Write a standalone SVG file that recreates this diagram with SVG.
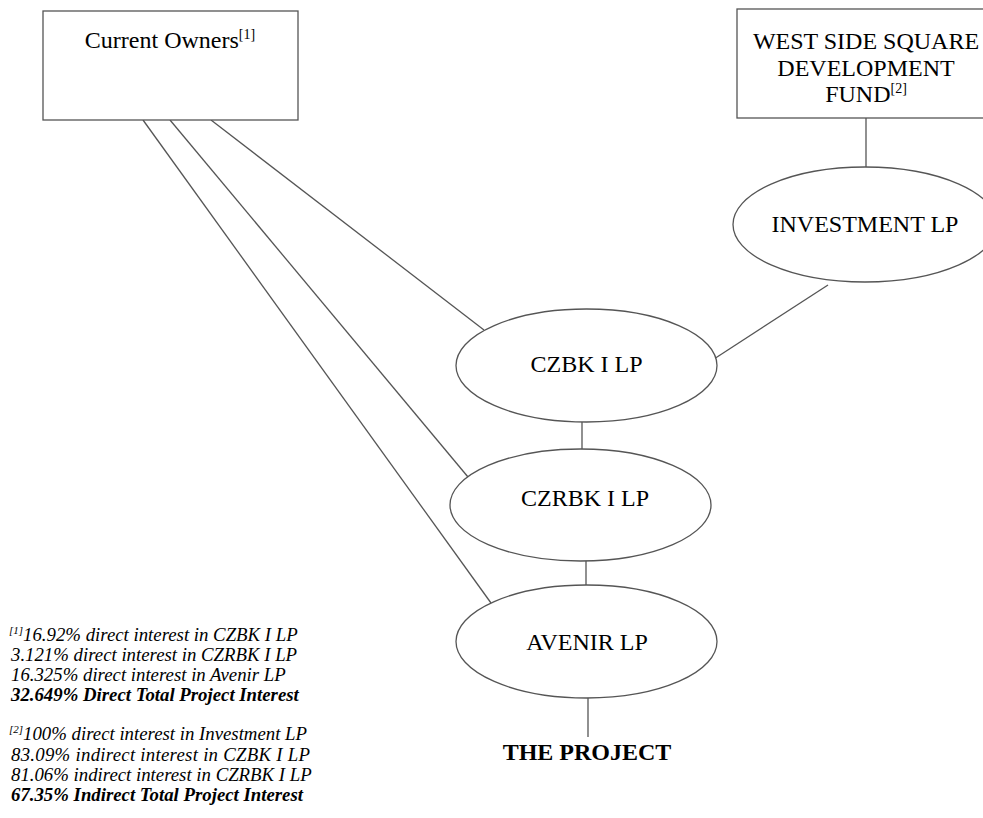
<svg xmlns="http://www.w3.org/2000/svg" width="983" height="818" viewBox="0 0 983 818">
<style>
.box{fill:#fff;stroke:#555;stroke-width:1.3}
.ell{fill:#fff;stroke:#555;stroke-width:1.3}
.ln{stroke:#555;stroke-width:1.3;fill:none}
.t{font-family:"Liberation Serif","Times New Roman",serif;font-size:24px;fill:#000;text-anchor:middle}
.sup{font-size:14px}
.fn{font-family:"Liberation Serif","Times New Roman",serif;font-size:18.8px;font-style:italic;fill:#000}
.fs{font-size:11px}
.b{font-weight:bold}
</style>
<rect width="983" height="818" fill="#fff"/>
<g id="connectors">
<line class="ln" x1="211" y1="120" x2="484" y2="330"/>
<line class="ln" x1="170" y1="120" x2="468" y2="477"/>
<line class="ln" x1="143" y1="120" x2="491" y2="603"/>
<line class="ln" x1="866" y1="118" x2="866" y2="167"/>
<line class="ln" x1="828" y1="285" x2="714" y2="359"/>
<line class="ln" x1="582" y1="422" x2="582" y2="449"/>
<line class="ln" x1="586" y1="561" x2="586" y2="585"/>
<line class="ln" x1="588" y1="698" x2="588" y2="737"/>
</g>
<g id="current-owners">
<rect class="box" x="43" y="11" width="255" height="109"/>
<text class="t" x="170" y="48">Current Owners<tspan class="sup" dy="-9">[1]</tspan></text>
</g>
<g id="west-side">
<rect class="box" x="737" y="9" width="259" height="109"/>
<text class="t" x="866" y="49">WEST SIDE SQUARE</text>
<text class="t" x="866" y="76">DEVELOPMENT</text>
<text class="t" x="866" y="102">FUND<tspan class="sup" dy="-9">[2]</tspan></text>
</g>
<g id="investment-lp">
<ellipse class="ell" cx="865" cy="224.5" rx="132" ry="57.5"/>
<text class="t" x="865" y="232">INVESTMENT LP</text>
</g>
<g id="czbk">
<ellipse class="ell" cx="586.5" cy="365.5" rx="130.5" ry="56.5"/>
<text class="t" x="586.5" y="372">CZBK I LP</text>
</g>
<g id="czrbk">
<ellipse class="ell" cx="580.5" cy="505" rx="130.5" ry="56"/>
<text class="t" x="585" y="506">CZRBK I LP</text>
</g>
<g id="avenir">
<ellipse class="ell" cx="586.5" cy="641.5" rx="130.5" ry="56.5"/>
<text class="t" x="587" y="650">AVENIR LP</text>
</g>
<g id="project">
<text class="t b" x="587" y="760">THE PROJECT</text>
</g>
<g id="footnotes">
<text class="fn" x="9" y="641"><tspan class="fs" dy="-7">[1]</tspan><tspan dy="7">16.92% direct interest in CZBK I LP</tspan></text>
<text class="fn" x="11" y="661">3.121% direct interest in CZRBK I LP</text>
<text class="fn" x="11" y="681">16.325% direct interest in Avenir LP</text>
<text class="fn b" x="11" y="701">32.649% Direct Total Project Interest</text>
<text class="fn" x="9" y="740"><tspan class="fs" dy="-7">[2]</tspan><tspan dy="7">100% direct interest in Investment LP</tspan></text>
<text class="fn" x="11" y="761" textLength="299" lengthAdjust="spacing">83.09% indirect interest in CZBK I LP</text>
<text class="fn" x="11" y="781">81.06% indirect interest in CZRBK I LP</text>
<text class="fn b" x="11" y="801">67.35% Indirect Total Project Interest</text>
</g>
</svg>
